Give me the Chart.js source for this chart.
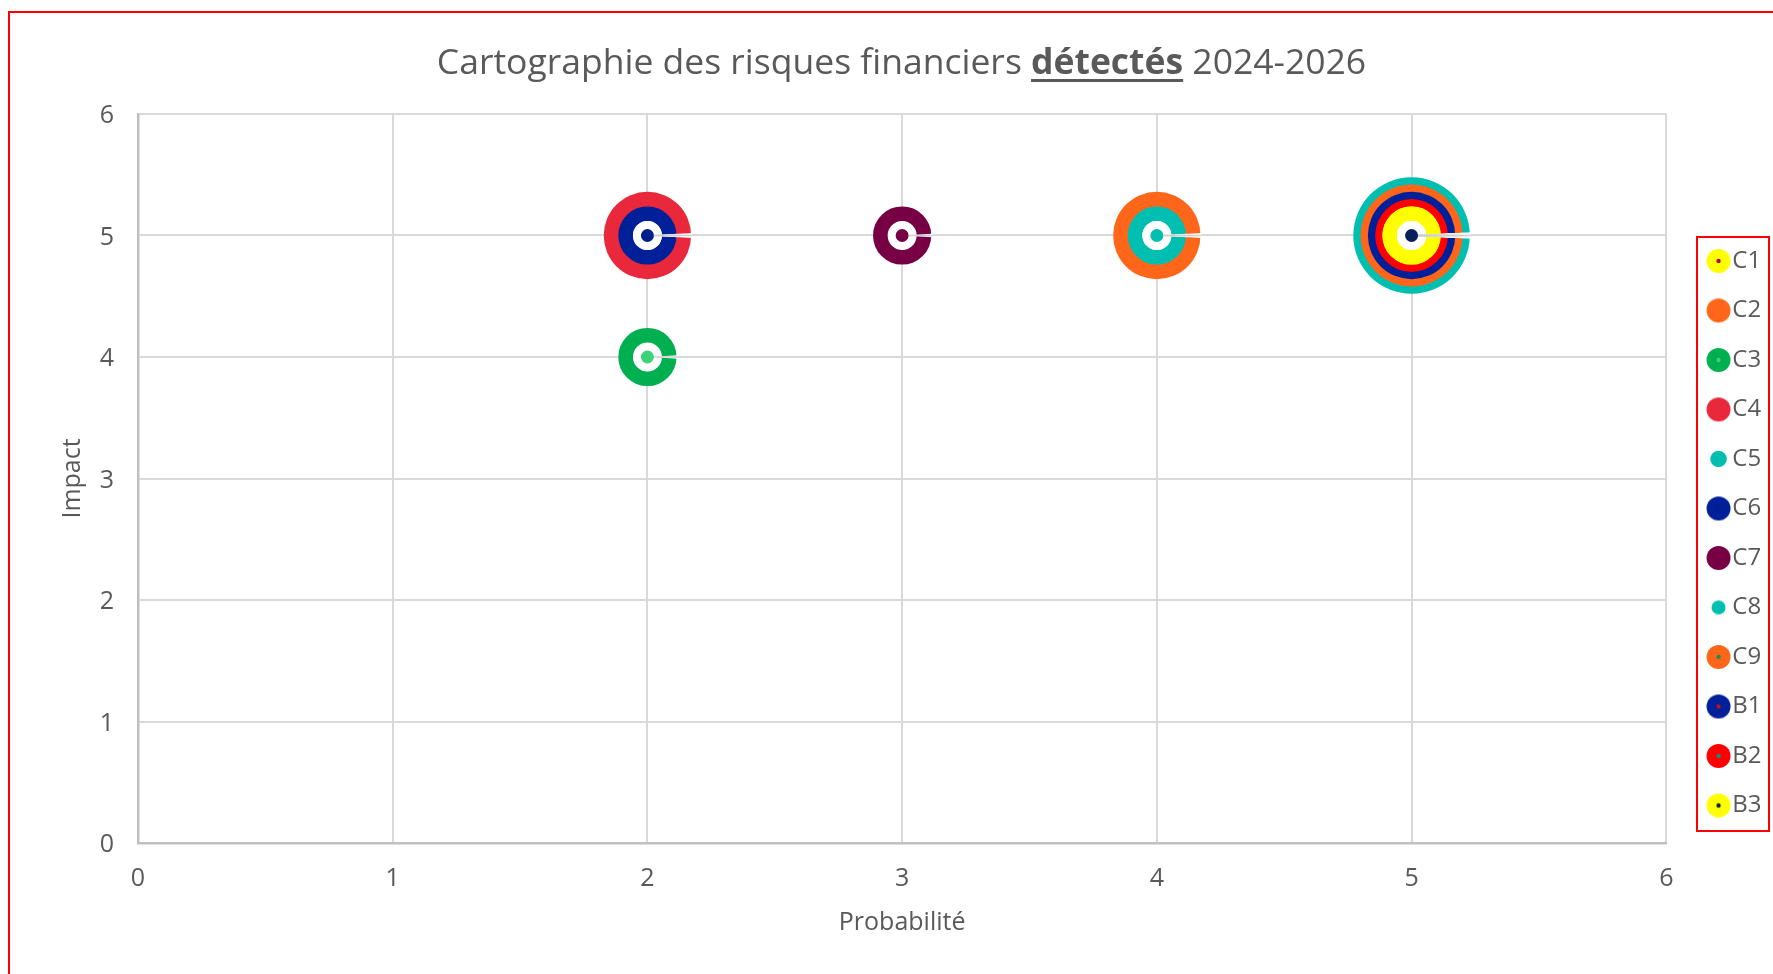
<!DOCTYPE html>
<html><head><meta charset="utf-8">
<script src="https://cdn.jsdelivr.net/npm/chart.js@4/dist/chart.umd.min.js"></script>
<style>
html,body{margin:0;padding:0;background:#fff;width:1773px;height:974px;overflow:hidden;font-family:"Open Sans",sans-serif;}
#frame{position:absolute;left:8px;top:11px;width:1900px;height:1100px;border:2px solid #ff0000;box-sizing:border-box;}
#wrap{position:absolute;left:0;top:0;width:1773px;height:974px;}
#titre{position:absolute;left:138px;width:1527px;top:33px;text-align:center;font-size:35.5px;color:#595959;line-height:54px;white-space:nowrap;}
#titre u{text-decoration-thickness:3px;text-underline-offset:5px;}
#legendBox{position:absolute;left:1696px;top:236px;width:74px;height:596px;border:2px solid #ff0000;box-sizing:border-box;}
</style></head>
<body>
<div id="frame"></div>
<div id="wrap"><canvas id="c" width="1773" height="974"></canvas></div>
<div id="titre">Cartographie des risques financiers <b><u>détectés</u></b> 2024-2026</div>
<div id="legendBox"></div>
<script>
// ---- Données ----
const series       = ['C1','C2','C3','C4','C5','C6','C7','C8','C9','B1','B2','B3'];
const probabilite  = [5, 4, 2, 2, 4, 2, 3, 5, 5, 5, 5, 5];
const impact       = [5, 5, 4, 5, 5, 5, 5, 5, 5, 5, 5, 5];
const taille       = [4, 6, 4, 6, 4, 4, 4, 8, 7, 6, 5, 4];
const axeTicks     = [0, 1, 2, 3, 4, 5, 6];

// ---- Styles ----
const couleurs       = ['#FFFF00','#FF6619','#00B050','#E9283C','#00BFB0','#00209A','#770044','#00BFB0','#FF6619','#00209A','#FF0000','#FFFF00'];
const couleursCentre = ['#B0005A','#FF6619','#3DD27A','#E9283C','#00BFB0','#001E8C','#770044','#00BFB0','#1E8C4E','#C0101E','#1F8585','#0A1E5A'];
const rayonLegende   = [12,12,12,12,8.3,12,12,7,12,12,12,12];
const ECHELLE = 7.28;
const GRIS = '#595959';
const FONT = 'Open Sans';
const TAILLE_TEXTE = 25;
const DECALAGE = 12.5;

function icone(i){
  const c = document.createElement('canvas'); c.width = 56; c.height = 30;
  const g = c.getContext('2d');
  const cx = 28 + DECALAGE, cy = 15;
  g.fillStyle = couleurs[i]; g.beginPath(); g.arc(cx, cy, rayonLegende[i], 0, 2*Math.PI); g.fill();
  if (couleursCentre[i] !== couleurs[i]) {
    g.fillStyle = couleursCentre[i]; g.beginPath(); g.arc(cx, cy, 2.2, 0, 2*Math.PI); g.fill();
  }
  return c;
}
const icones = series.map((_, i) => icone(i));

const datasets = series.map((nom, i) => ({
  label: nom,
  data: [{x: probabilite[i], y: impact[i]}],
  backgroundColor: couleurs[i],
  borderWidth: 0,
  radius: taille[i] * ECHELLE,
  hoverRadius: 0,
  order: taille[i]
}));
const ordreCentres = series.map((_, i) => i).sort((a, b) => taille[b] - taille[a] || a - b);
datasets.push({
  label: '_centres',
  data: ordreCentres.map(i => ({x: probabilite[i], y: impact[i]})),
  backgroundColor: ordreCentres.map(i => couleursCentre[i]),
  borderColor: '#ffffff',
  borderWidth: 8,
  radius: 10.5,
  hoverRadius: 0,
  order: -1
});

// fine fente blanche à droite de chaque bulle (comme dans l'original)
const fente = {
  id: 'fente',
  afterDatasetsDraw(chart) {
    const ctx = chart.ctx;
    ctx.save();
    series.forEach((_, i) => {
      const el = chart.getDatasetMeta(i).data[0];
      if (!el) return;
      const r = el.options.radius + 1;
      const a = 0.055;
      ctx.fillStyle = '#ffffff';
      ctx.beginPath();
      ctx.arc(el.x, el.y, r, -a, a);
      ctx.arc(el.x, el.y, 14.5, a, -a, true);
      ctx.closePath();
      ctx.fill();
    });
    series.forEach((_, i) => {
      const el = chart.getDatasetMeta(i).data[0];
      if (!el) return;
      ctx.strokeStyle = '#cfcfcf';
      ctx.lineWidth = 1.5;
      ctx.beginPath();
      ctx.moveTo(el.x + 6.5, el.y);
      ctx.lineTo(el.x + el.options.radius + 1, el.y);
      ctx.stroke();
    });
    ctx.restore();
  }
};

new Chart(document.getElementById('c'), {
  type: 'bubble',
  data: { datasets },
  plugins: [fente],
  options: {
    responsive: false,
    animation: false,
    events: [],
    layout: { padding: { left: 20, top: 114, right: 1.5, bottom: 0 } },
    plugins: {
      tooltip: { enabled: false },
      legend: {
        position: 'right', align: 'end', fullSize: false,
        labels: {
          usePointStyle: true, pointStyleWidth: 28.5, boxHeight: 24,
          font: { family: FONT, size: 24 }, color: GRIS, padding: 25.5,
          filter: it => !it.text.startsWith('_'),
          sort: (a, b) => a.datasetIndex - b.datasetIndex,
          generateLabels: chart => {
            const items = Chart.defaults.plugins.legend.labels.generateLabels(chart);
            items.forEach(it => { if (it.datasetIndex < series.length) it.pointStyle = icones[it.datasetIndex]; });
            return items;
          }
        }
      }
    },
    scales: {
      x: {
        type: 'linear', min: 0, max: 6,
        afterBuildTicks: s => { s.ticks = axeTicks.map(v => ({value: v})); },
        afterFit: s => { s.height = 131; },
        grid: { color: '#d9d9d9', lineWidth: 2, drawTicks: false },
        border: { color: '#bfbfbf', width: 2.5 },
        ticks: { padding: 21, color: GRIS, font: { family: FONT, size: TAILLE_TEXTE } },
        title: { display: true, text: 'Probabilité', color: GRIS, font: { family: FONT, size: TAILLE_TEXTE }, padding: { top: 0, bottom: 36 } }
      },
      y: {
        type: 'linear', min: 0, max: 6,
        afterBuildTicks: s => { s.ticks = axeTicks.map(v => ({value: v})); },
        afterFit: s => { s.width = 118; },
        grid: { color: '#d9d9d9', lineWidth: 2, drawTicks: false },
        border: { color: '#bfbfbf', width: 2.5 },
        ticks: { padding: 24, labelOffset: 2, color: GRIS, font: { family: FONT, size: TAILLE_TEXTE } },
        title: { display: true, text: 'Impact', color: GRIS, font: { family: FONT, size: TAILLE_TEXTE }, padding: { top: 38, bottom: 0 } }
      }
    }
  }
});
</script>
</body></html>
